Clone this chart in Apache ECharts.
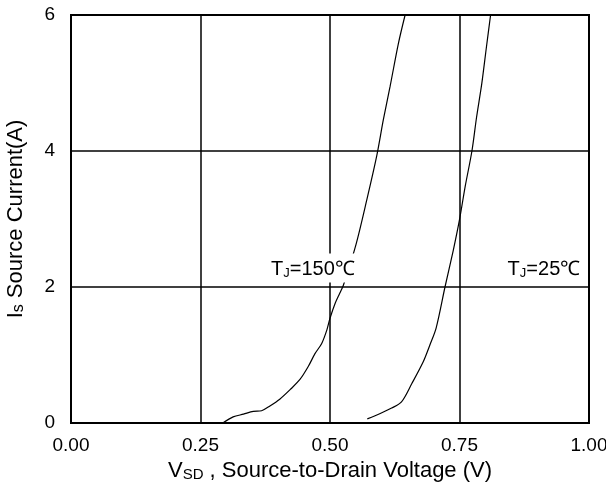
<!DOCTYPE html>
<html>
<head>
<meta charset="utf-8">
<script src="https://cdn.jsdelivr.net/npm/echarts@6/dist/echarts.min.js"></script>
<style>
  html, body { margin: 0; padding: 0; background: #fff; }
  #chart { width: 606px; height: 493px; }
</style>
</head>
<body>
<div id="chart"></div>
<script>
// diode forward curves
const vsd150 = [0.293, 0.313, 0.333, 0.352, 0.368, 0.384, 0.403, 0.423, 0.442, 0.458, 0.471, 0.484, 0.494, 0.5, 0.51, 0.519, 0.526, 0.55, 0.571, 0.59, 0.603, 0.616, 0.632, 0.645];
const is150 = [0, 0.09, 0.13, 0.17, 0.18, 0.25, 0.35, 0.49, 0.64, 0.83, 1.02, 1.17, 1.37, 1.54, 1.76, 1.91, 2.03, 2.62, 3.28, 3.92, 4.46, 4.95, 5.58, 6.0];
const vsd25 = [0.572, 0.597, 0.619, 0.638, 0.658, 0.68, 0.693, 0.705, 0.722, 0.738, 0.75, 0.761, 0.774, 0.783, 0.793, 0.802, 0.81];
const is25 = [0.06, 0.14, 0.22, 0.31, 0.58, 0.9, 1.15, 1.4, 2.0, 2.54, 2.99, 3.48, 4.0, 4.5, 4.99, 5.53, 6.0];

const font = "'Liberation Sans', Arial, sans-serif";
const chart = echarts.init(document.getElementById("chart"));

function pairs(xs, ys) {
  return xs.map((x, i) => [x, ys[i]]);
}

function tag(name, x, y) {
  return {
    data: [{ coord: [x, y], value: name }],
    symbol: "rect",
    symbolSize: 0,
    silent: true,
    label: {
      show: true,
      position: "inside",
      formatter: name,
      backgroundColor: "#fff",
      padding: [6, 6, 3, 6],
      color: "#000",
      fontFamily: font,
      rich: {
        t: { fontSize: 20, fontFamily: font, color: "#000" },
        j: { fontSize: 13, fontFamily: font, color: "#000", verticalAlign: "bottom", padding: [7, 0, 0, 0] },
      },
    },
  };
}

const line = { color: "#000", width: 1.2 };

chart.setOption({
  animation: false,
  grid: {
    left: 71, right: 17, top: 15, bottom: 70,
    outerBoundsMode: "none",
    show: true, borderColor: "#000", borderWidth: 2,
  },
  xAxis: {
    type: "value",
    min: 0,
    max: 1,
    interval: 0.25,
    name: "{v|V}{s|SD}{n| , Source-to-Drain Voltage (V)}",
    nameLocation: "middle",
    nameGap: 37,
    nameTextStyle: {
      rich: {
        v: { fontSize: 22, fontFamily: font, color: "#000" },
        s: { fontSize: 15, fontFamily: font, color: "#000", verticalAlign: "bottom", padding: [7, 0, 0, 0] },
        n: { fontSize: 22, fontFamily: font, color: "#000" },
      },
    },
    axisLine: { lineStyle: { color: "#000", width: 2 } },
    axisTick: { show: false },
    axisLabel: { color: "#000", fontSize: 19, fontFamily: font, margin: 13, formatter: (v) => v.toFixed(2) },
    splitLine: { lineStyle: { color: "#000", width: 1.5 } },
  },
  yAxis: {
    type: "value",
    min: 0,
    max: 6,
    interval: 2,
    name: "{n|I}{s|s}{n| Source Current(A)}",
    nameLocation: "middle",
    nameGap: 44,
    nameTextStyle: {
      rich: {
        n: { fontSize: 22, fontFamily: font, color: "#000" },
        s: { fontSize: 16, fontFamily: font, color: "#000", verticalAlign: "bottom" },
      },
    },
    axisLine: { show: true, lineStyle: { color: "#000", width: 2 } },
    axisTick: { show: false },
    axisLabel: { color: "#000", fontSize: 19, fontFamily: font, margin: 16 },
    splitLine: { lineStyle: { color: "#000", width: 1.5 } },
  },
  series: [
    {
      type: "line",
      name: "TJ=150",
      data: pairs(vsd150, is150),
      showSymbol: false,
      smooth: 0.3,
      lineStyle: line,
      markPoint: tag("{t|T}{j|J}{t|=150℃}", 0.467, 2.28),
    },
    {
      type: "line",
      name: "TJ=25",
      data: pairs(vsd25, is25),
      showSymbol: false,
      smooth: 0.3,
      lineStyle: line,
      markPoint: tag("{t|T}{j|J}{t|=25℃}", 0.913, 2.28),
    },
  ],
});
</script>
</body>
</html>
